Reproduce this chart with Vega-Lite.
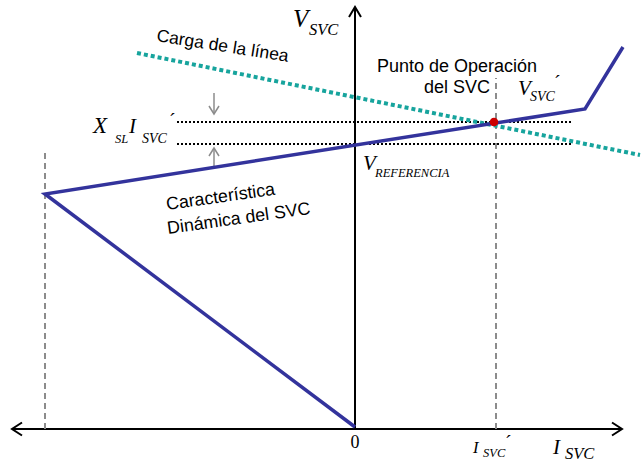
{
  "$schema": "https://vega.github.io/schema/vega-lite/v6.json",
  "width": 642,
  "height": 465,
  "autosize": {"type": "none"},
  "padding": 0,
  "background": "white",
  "config": {"view": {"stroke": null}},
  "encoding": {
    "x": {"field": "x", "type": "quantitative", "scale": {"domain": [-355, 287], "nice": false, "zero": false}, "axis": null},
    "y": {"field": "y", "type": "quantitative", "scale": {"domain": [-36, 429], "nice": false, "zero": false}, "axis": null}
  },
  "layer": [
    {
      "data": {"values": [
        {"g": "h", "o": 1, "x": -343, "y": 0}, {"g": "h", "o": 2, "x": 267, "y": 0},
        {"g": "v", "o": 1, "x": 0, "y": 0}, {"g": "v", "o": 2, "x": 0, "y": 422},
        {"g": "ar", "o": 1, "x": 257, "y": 6.5}, {"g": "ar", "o": 2, "x": 267, "y": 0}, {"g": "ar", "o": 3, "x": 257, "y": -6.5},
        {"g": "al", "o": 1, "x": -333, "y": 6.5}, {"g": "al", "o": 2, "x": -343, "y": 0}, {"g": "al", "o": 3, "x": -333, "y": -6.5},
        {"g": "at", "o": 1, "x": -6, "y": 412}, {"g": "at", "o": 2, "x": 0, "y": 422}, {"g": "at", "o": 3, "x": 6, "y": 412}
      ]},
      "mark": {"type": "line", "color": "black", "strokeWidth": 2},
      "encoding": {"detail": {"field": "g"}, "order": {"field": "o", "type": "quantitative"}}
    },
    {
      "data": {"values": [
        {"g": "a", "o": 1, "x": -310, "y": 0}, {"g": "a", "o": 2, "x": -310, "y": 280},
        {"g": "b", "o": 1, "x": 141, "y": 0}, {"g": "b", "o": 2, "x": 141, "y": 351}
      ]},
      "mark": {"type": "line", "color": "#8c8c8c", "strokeWidth": 2, "strokeDash": [6, 4]},
      "encoding": {"detail": {"field": "g"}, "order": {"field": "o", "type": "quantitative"}}
    },
    {
      "data": {"values": [
        {"g": "u", "o": 1, "x": -178, "y": 307}, {"g": "u", "o": 2, "x": 218, "y": 307},
        {"g": "l", "o": 1, "x": -178, "y": 285}, {"g": "l", "o": 2, "x": 218, "y": 285}
      ]},
      "mark": {"type": "line", "color": "black", "strokeWidth": 2, "strokeDash": [2, 2]},
      "encoding": {"detail": {"field": "g"}, "order": {"field": "o", "type": "quantitative"}}
    },
    {
      "data": {"values": [
        {"g": "us", "o": 1, "x": -141, "y": 336}, {"g": "us", "o": 2, "x": -141, "y": 315},
        {"g": "uh", "o": 1, "x": -146, "y": 323}, {"g": "uh", "o": 2, "x": -141, "y": 315}, {"g": "uh", "o": 3, "x": -136, "y": 323},
        {"g": "ls", "o": 1, "x": -141, "y": 261}, {"g": "ls", "o": 2, "x": -141, "y": 281},
        {"g": "lh", "o": 1, "x": -146, "y": 273}, {"g": "lh", "o": 2, "x": -141, "y": 281}, {"g": "lh", "o": 3, "x": -136, "y": 273}
      ]},
      "mark": {"type": "line", "color": "#8c8c8c", "strokeWidth": 1.5},
      "encoding": {"detail": {"field": "g"}, "order": {"field": "o", "type": "quantitative"}}
    },
    {
      "data": {"values": [
        {"o": 1, "x": -218, "y": 376}, {"o": 2, "x": 285, "y": 274}
      ]},
      "mark": {"type": "line", "color": "#17a49d", "strokeWidth": 4, "strokeDash": [4, 3]},
      "encoding": {"order": {"field": "o", "type": "quantitative"}}
    },
    {
      "data": {"values": [
        {"o": 1, "x": 0, "y": 2}, {"o": 2, "x": -310, "y": 235}, {"o": 3, "x": 230, "y": 320}, {"o": 4, "x": 268, "y": 382}
      ]},
      "mark": {"type": "line", "color": "#33339c", "strokeWidth": 3.5, "strokeJoin": "miter"},
      "encoding": {"order": {"field": "o", "type": "quantitative"}}
    },
    {
      "data": {"values": [{"x": 139, "y": 307}]},
      "mark": {"type": "point", "shape": "circle", "filled": true, "color": "#cc0000", "size": 75, "opacity": 1}
    },
    {
      "data": {"values": [{"x": -199, "y": 388, "t": "Carga de la línea"}]},
      "mark": {"type": "text", "font": "Liberation Sans", "fontSize": 17.5, "align": "left", "baseline": "alphabetic", "angle": 9, "color": "black"},
      "encoding": {"text": {"field": "t"}}
    },
    {
      "data": {"values": [
        {"x": 102, "y": 357, "t": "Punto de Operación"},
        {"x": 102, "y": 336, "t": "del SVC"}
      ]},
      "mark": {"type": "text", "font": "Liberation Sans", "fontSize": 18, "align": "center", "baseline": "alphabetic", "color": "black"},
      "encoding": {"text": {"field": "t"}}
    },
    {
      "data": {"values": [
        {"x": -188, "y": 219, "t": "Característica"},
        {"x": -187, "y": 195, "t": "Dinámica del SVC"}
      ]},
      "mark": {"type": "text", "font": "Liberation Sans", "fontSize": 17.8, "align": "left", "baseline": "alphabetic", "angle": -8, "color": "black"},
      "encoding": {"text": {"field": "t"}}
    },
    {
      "data": {"values": [{"x": -62, "y": 402, "t": "V"}]},
      "mark": {"type": "text", "font": "Liberation Serif", "fontStyle": "italic", "fontSize": 25, "align": "left", "baseline": "alphabetic", "color": "black"},
      "encoding": {"text": {"field": "t"}}
    },
    {
      "data": {"values": [
        {"x": -262, "y": 296, "t": "X"}
      ]},
      "mark": {"type": "text", "font": "Liberation Serif", "fontStyle": "italic", "fontSize": 23, "align": "left", "baseline": "alphabetic", "color": "black"},
      "encoding": {"text": {"field": "t"}}
    },
    {
      "data": {"values": [
        {"x": -226, "y": 296, "t": "I"},
        {"x": 8, "y": 259, "t": "V"},
        {"x": 163, "y": 334, "t": "V"},
        {"x": 198, "y": -25, "t": "I"}
      ]},
      "mark": {"type": "text", "font": "Liberation Serif", "fontStyle": "italic", "fontSize": 21, "align": "left", "baseline": "alphabetic", "color": "black"},
      "encoding": {"text": {"field": "t"}}
    },
    {
      "data": {"values": [
        {"x": -46, "y": 394, "t": "SVC"},
        {"x": 210, "y": -30, "t": "SVC"},
        {"x": 118, "y": -24, "t": "I"}
      ]},
      "mark": {"type": "text", "font": "Liberation Serif", "fontStyle": "italic", "fontSize": 16.5, "align": "left", "baseline": "alphabetic", "color": "black"},
      "encoding": {"text": {"field": "t"}}
    },
    {
      "data": {"values": [
        {"x": -213, "y": 286, "t": "SVC"},
        {"x": 175, "y": 328, "t": "SVC"}
      ]},
      "mark": {"type": "text", "font": "Liberation Serif", "fontStyle": "italic", "fontSize": 14, "align": "left", "baseline": "alphabetic", "color": "black"},
      "encoding": {"text": {"field": "t"}}
    },
    {
      "data": {"values": [
        {"x": -240, "y": 286, "t": "SL"},
        {"x": 20, "y": 252, "t": "REFERENCIA"},
        {"x": 128, "y": -28, "t": "SVC"}
      ]},
      "mark": {"type": "text", "font": "Liberation Serif", "fontStyle": "italic", "fontSize": 12.5, "align": "left", "baseline": "alphabetic", "color": "black"},
      "encoding": {"text": {"field": "t"}}
    },
    {
      "data": {"values": [
        {"x": -186, "y": 301, "t": "´"},
        {"x": 199, "y": 339, "t": "´"},
        {"x": 150, "y": -21, "t": "´"}
      ]},
      "mark": {"type": "text", "font": "Liberation Serif", "fontSize": 20, "align": "left", "baseline": "alphabetic", "color": "black"},
      "encoding": {"text": {"field": "t"}}
    },
    {
      "data": {"values": [{"x": 0, "y": -19, "t": "0"}]},
      "mark": {"type": "text", "font": "Liberation Serif", "fontSize": 18, "align": "center", "baseline": "alphabetic", "color": "black"},
      "encoding": {"text": {"field": "t"}}
    }
  ]
}
